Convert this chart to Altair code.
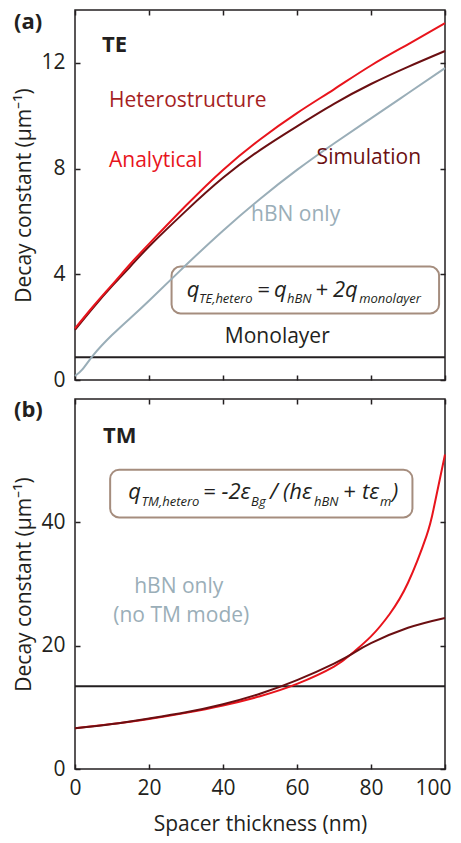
import altair as alt
import pandas as pd

# ---------------- data ----------------
te_x = [0, 5, 10, 15, 20, 30, 40, 50, 60, 70, 80, 90, 100]
te_analytical = [1.95, 2.8, 3.6, 4.4, 5.15, 6.6, 7.95, 9.1, 10.1, 11.0, 11.9, 12.7, 13.5]
te_simulation = [1.9, 2.75, 3.55, 4.3, 5.05, 6.4, 7.65, 8.7, 9.6, 10.45, 11.2, 11.85, 12.45]
hbn_x = [0, 2, 5, 10, 15, 20, 30, 40, 50, 60, 70, 80, 90, 100]
te_hbn = [0.15, 0.4, 0.95, 1.7, 2.35, 3.0, 4.35, 5.65, 6.85, 7.95, 8.95, 9.9, 10.85, 11.8]
te_monolayer = [0.86]

tm_x = [0, 10, 20, 30, 40, 50, 60, 70, 75, 80, 85, 90, 95, 97, 100]
tm_analytical = [6.6, 7.3, 8.1, 9.1, 10.3, 11.8, 13.8, 16.6, 18.8, 21.5, 25.1, 30.2, 37.8, 42.4, 51.0]
tm_sim_x = [0, 10, 20, 30, 40, 50, 60, 70, 75, 80, 90, 100]
tm_simulation = [6.6, 7.3, 8.2, 9.2, 10.5, 12.2, 14.4, 17.1, 18.7, 20.4, 22.9, 24.5]
tm_monolayer = [13.4]

x_ticks = [0, 20, 40, 60, 80, 100]
te_y_ticks = [0, 4, 8, 12]
tm_y_ticks = [0, 20, 40]

# ---------------- styling ----------------
C_RED = "#e8141c"
C_DARK = "#6b0f12"
C_GRAY = "#9aaeb8"
C_HET = "#a51e22"
C_BLACK = "#231f20"
C_BOX = "#a58d7e"
FONT = "Open Sans"

XS = alt.Scale(domain=[0, 100], nice=False, zero=False)
TE_YS = alt.Scale(domain=[0, 14], nice=False)
TM_YS = alt.Scale(domain=[0, 60], nice=False)


def curves_df(series):
    rows = []
    for name, xs, ys in series:
        for a, b in zip(xs, ys):
            rows.append({"x": a, "y": b, "s": name})
    return pd.DataFrame(rows)


te_df = curves_df([
    ("hBN", hbn_x, te_hbn),
    ("Simulation", te_x, te_simulation),
    ("Analytical", te_x, te_analytical),
])
tm_df = curves_df([
    ("Analytical", tm_x, tm_analytical),
    ("Simulation", tm_sim_x, tm_simulation),
])

# annotation tables (data coordinates)
te_plain = pd.DataFrame([
    {"x": 9.2, "y": 10.32, "t": "Heterostructure", "c": C_HET},
    {"x": 9.2, "y": 8.07, "t": "Analytical", "c": C_RED},
    {"x": 65.3, "y": 8.17, "t": "Simulation", "c": C_DARK},
    {"x": 47.6, "y": 6.03, "t": "hBN only", "c": C_GRAY},
    {"x": 40.5, "y": 1.39, "t": "Monolayer", "c": C_BLACK},
])
te_panel_label = pd.DataFrame([{"x": -16.5, "y": 13.93, "t": "(a)"}])
te_bold = pd.DataFrame([{"x": 7.3, "y": 12.4, "t": "TE"}])
te_box = pd.DataFrame([{"x": 26.1, "x2": 98.4, "y": 2.52, "y2": 4.29}])
te_eq_main = pd.DataFrame([
    {"x": 30.2, "y": 3.13, "t": "q"},
    {"x": 49.2, "y": 3.13, "t": "="},
    {"x": 53.8, "y": 3.13, "t": "q"},
    {"x": 64.9, "y": 3.13, "t": "+"},
    {"x": 69.7, "y": 3.13, "t": "2q"},
])
te_eq_sub = pd.DataFrame([
    {"x": 33.5, "y": 2.93, "t": "TE,hetero"},
    {"x": 57.3, "y": 2.93, "t": "hBN"},
    {"x": 76.8, "y": 2.93, "t": "monolayer"},
])

tm_plain = pd.DataFrame([
    {"x": 16.0, "y": 28.5, "t": "hBN only", "c": C_GRAY},
    {"x": 10.35, "y": 23.9, "t": "(no TM mode)", "c": C_GRAY},
])
tm_panel_label = pd.DataFrame([{"x": -16.5, "y": 59.9, "t": "(b)"}])
tm_bold = pd.DataFrame([{"x": 7.6, "y": 52.86, "t": "TM"}])
tm_box = pd.DataFrame([{"x": 9.5, "x2": 91.2, "y": 40.8, "y2": 48.53}])
tm_eq_main = pd.DataFrame([
    {"x": 14.4, "y": 43.78, "t": "q"},
    {"x": 34.6, "y": 43.78, "t": "="},
    {"x": 39.6, "y": 43.78, "t": "-2ε"},
    {"x": 52.7, "y": 43.78, "t": "/"},
    {"x": 56.2, "y": 43.78, "t": "(hε"},
    {"x": 72.4, "y": 43.78, "t": "+"},
    {"x": 77.6, "y": 43.78, "t": "tε"},
    {"x": 85.7, "y": 43.78, "t": ")"},
])
tm_eq_sub = pd.DataFrame([
    {"x": 18.0, "y": 42.6, "t": "TM,hetero"},
    {"x": 47.6, "y": 42.6, "t": "Bg"},
    {"x": 64.6, "y": 42.6, "t": "hBN"},
    {"x": 82.4, "y": 42.6, "t": "m"},
])


def text_layer(df, yscale, **mark):
    return alt.Chart(df).mark_text(font=FONT, color=C_BLACK, **mark).encode(
        x=alt.X("x:Q", scale=XS, axis=None),
        y=alt.Y("y:Q", scale=yscale, axis=None),
        text="t:N",
    )


def panel(curves, mono, yscale, yticks, plain, plabel, bold, box, eq_main, eq_sub, show_x):
    color = alt.Color("s:N", scale=alt.Scale(domain=["Analytical", "Simulation", "hBN"],
                                             range=[C_RED, C_DARK, C_GRAY]), legend=None)
    if show_x:
        xaxis = alt.Axis(orient="bottom", offset=-5, tickSize=5, values=x_ticks, domain=False,
                         grid=False, labelPadding=8, labelFlush=True, labelFlushOffset=6,
                         title="Spacer thickness (nm)", titlePadding=15)
    else:
        xaxis = alt.Axis(orient="bottom", offset=-5, tickSize=5, values=x_ticks, domain=False,
                         grid=False, labels=False, title=None, minExtent=0, maxExtent=0)
    yaxis = alt.Axis(orient="left", offset=-5, tickSize=5, values=yticks, domain=False, grid=False,
                     labelPadding=10, labelFlush=False, title="Decay constant (μm⁻¹)", titlePadding=6)

    lines = alt.Chart(curves).mark_line(strokeWidth=2, interpolate="natural").encode(
        x=alt.X("x:Q", scale=XS, axis=xaxis),
        y=alt.Y("y:Q", scale=yscale, axis=yaxis),
        color=color,
        detail="s:N",
        order=alt.Order("x:Q"),
    )
    rule = alt.Chart(pd.DataFrame({"y": mono})).mark_rule(strokeWidth=2, color=C_BLACK).encode(
        y=alt.Y("y:Q", scale=yscale, axis=None),
    )
    rect = alt.Chart(box).mark_rect(cornerRadius=9, fillOpacity=0, stroke=C_BOX, strokeWidth=2).encode(
        x=alt.X("x:Q", scale=XS, axis=None), x2="x2:Q",
        y=alt.Y("y:Q", scale=yscale, axis=None), y2="y2:Q",
    )
    txt = alt.Chart(plain).mark_text(align="left", baseline="alphabetic", fontSize=21, font=FONT).encode(
        x=alt.X("x:Q", scale=XS,
                axis=alt.Axis(orient="top", offset=-5, tickSize=5, values=x_ticks, domain=False,
                              grid=False, labels=False, title=None, minExtent=0, maxExtent=0)),
        y=alt.Y("y:Q", scale=yscale,
                axis=alt.Axis(orient="right", offset=-5, tickSize=5, values=yticks, domain=False,
                              grid=False, labels=False, title=None, minExtent=0, maxExtent=0)),
        text="t:N",
        color=alt.Color("c:N", scale=None),
    )
    lab = text_layer(plabel, yscale, align="left", baseline="top", fontSize=22, fontWeight="bold")
    btxt = text_layer(bold, yscale, align="left", baseline="alphabetic", fontSize=22, fontWeight="bold")
    emain = text_layer(eq_main, yscale, align="left", baseline="alphabetic", fontSize=22, fontStyle="italic")
    esub = text_layer(eq_sub, yscale, align="left", baseline="alphabetic", fontSize=13, fontStyle="italic")
    return alt.layer(rule, rect, lines, txt, lab, btxt, emain, esub).resolve_axis(
        x="independent", y="independent"
    ).properties(width=370, height=370)


top = panel(te_df, te_monolayer, TE_YS, te_y_ticks, te_plain, te_panel_label, te_bold, te_box,
            te_eq_main, te_eq_sub, False)
bottom = panel(tm_df, tm_monolayer, TM_YS, tm_y_ticks, tm_plain, tm_panel_label, tm_bold, tm_box,
               tm_eq_main, tm_eq_sub, True)

chart = alt.vconcat(top, bottom, spacing=6).properties(
    padding={"left": 5, "top": 0, "right": 0, "bottom": 5},
    background="white",
).configure_view(
    stroke=C_BLACK, strokeWidth=1.5
).configure_axis(
    labelFont=FONT, titleFont=FONT, labelFontSize=21, titleFontSize=21,
    titleFontWeight="normal", labelColor=C_BLACK, titleColor=C_BLACK,
    tickColor=C_BLACK, tickWidth=1.5
)

chart.save("out.html", embed_options={"renderer": "svg", "actions": False})
